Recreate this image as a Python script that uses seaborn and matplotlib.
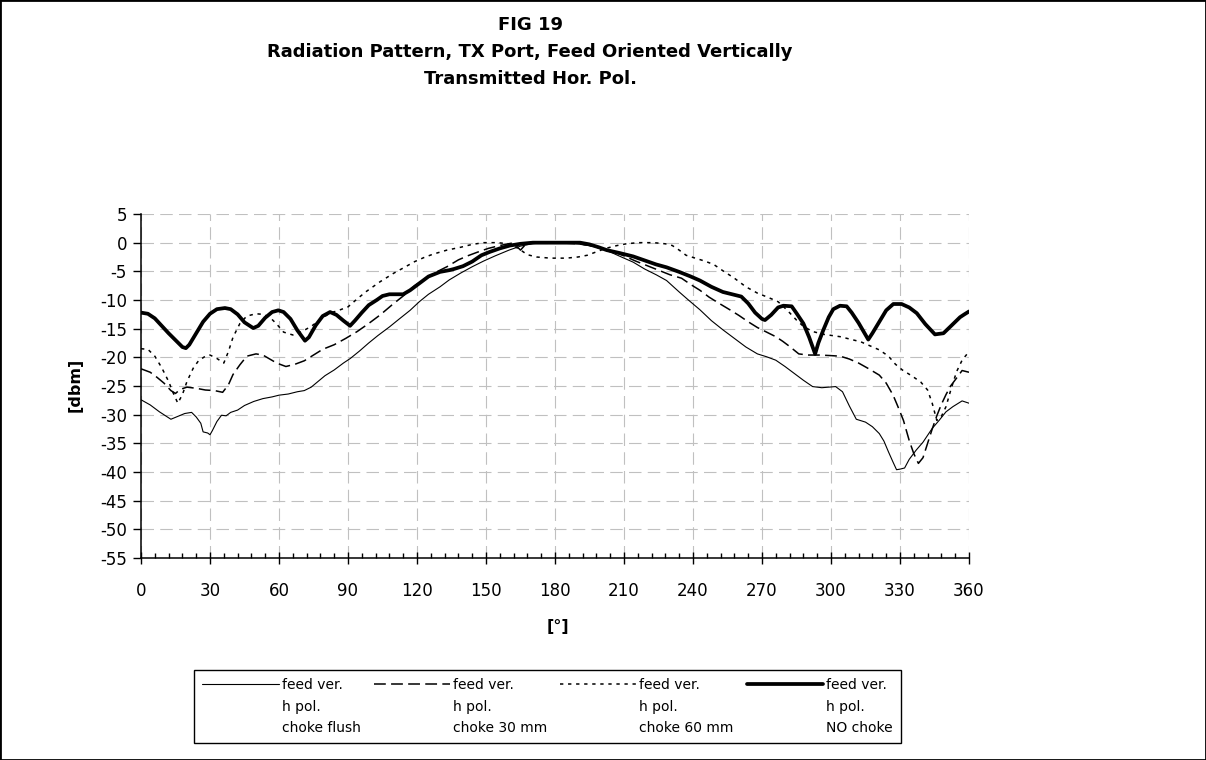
import numpy as np
import pandas as pd
import matplotlib
matplotlib.use("Agg")
import matplotlib.pyplot as plt
import matplotlib.patches as mpatches
from matplotlib.transforms import Affine2D
from matplotlib.ticker import MultipleLocator
import seaborn as sns

# ---------------- data ----------------
flush_deg = [0, 4, 8, 13, 16, 19, 22, 24, 26, 27, 29, 30, 31, 33, 35, 37, 39, 42, 45, 49,
             53, 57, 60, 64, 68, 71, 74, 77, 80, 84, 88, 91, 95, 99, 103, 108, 112, 117,
             121, 125, 130, 134, 139, 144, 149, 154, 160, 165, 170, 175, 180, 185, 190,
             195, 200, 205, 210, 214, 219, 224, 228.5, 234, 238, 243, 248, 253, 258, 263,
             268, 272, 276, 280, 284, 288, 292, 296, 299, 302, 305, 308, 311, 315, 318,
             321, 323, 325, 327, 328.5, 330, 332, 334, 337, 340, 344, 347, 350, 353, 357, 360]
flush_dbm = [-27.4, -28.3, -29.5, -30.8, -30.3, -29.8, -29.6, -30.4, -31.5, -33.0, -33.2,
             -33.5, -32.8, -31.2, -30.1, -30.2, -29.6, -29.2, -28.4, -27.7, -27.2, -26.9,
             -26.6, -26.4, -26.0, -25.8, -25.2, -24.2, -23.2, -22.2, -21.0, -20.2, -18.9,
             -17.5, -16.2, -14.7, -13.4, -11.8, -10.3, -9.0, -7.7, -6.5, -5.3, -4.2, -3.2,
             -2.3, -1.3, -0.6, -0.2, 0.0, 0.0, 0.0, -0.2, -0.5, -1.0, -1.8, -2.7, -3.4,
             -4.6, -5.6, -6.6, -8.6, -10.0, -11.7, -13.6, -15.2, -16.7, -18.2, -19.4, -19.9,
             -20.5, -21.6, -22.8, -24.0, -25.1, -25.3, -25.2, -25.1, -26.0, -28.5, -30.8,
             -31.3, -32.1, -33.3, -34.6, -36.5, -38.3, -39.6, -39.5, -39.3, -37.8, -36.2,
             -34.8, -32.4, -31.0, -29.5, -28.6, -27.6, -28.0]

c30_deg = [0, 4, 7, 10, 13, 15, 17, 20, 24, 28, 32, 35.5, 38, 40, 43, 46, 50, 53, 56, 59,
           63, 67, 71, 75, 79, 84, 89, 94, 99, 104, 109, 114, 119, 124, 128, 133, 138, 142,
           146, 151, 156, 161, 163, 165, 167, 170, 180, 190, 195, 200, 205, 210, 215, 220,
           225, 230, 235, 239, 243, 247, 251, 256, 260, 264, 268, 272, 276, 279, 282, 286,
           290, 295, 300, 304, 308, 312, 316, 321, 324, 327, 329, 331.5, 334, 336, 338,
           340, 342, 344, 346, 348, 350, 352, 355, 357, 360]
c30_dbm = [-22.0, -22.6, -23.5, -24.5, -25.8, -26.3, -25.6, -25.2, -25.4, -25.7, -25.8,
           -26.1, -24.8, -23.0, -21.3, -19.8, -19.4, -19.6, -20.3, -21.0, -21.6, -21.2,
           -20.6, -19.6, -18.6, -17.8, -16.7, -15.5, -14.1, -12.6, -10.9, -9.3, -7.5, -6.2,
           -5.2, -4.2, -3.0, -2.3, -1.7, -1.0, -0.5, -0.1, -0.5, -1.3, -0.4, 0.0, 0.0,
           -0.2, -0.5, -1.0, -1.5, -2.3, -3.2, -4.0, -4.8, -5.6, -6.2, -7.3, -8.3, -9.5,
           -10.5, -11.7, -12.7, -13.8, -14.8, -15.6, -16.4, -17.2, -18.1, -19.4, -19.6,
           -19.6, -19.7, -19.8, -20.3, -21.0, -21.9, -23.1, -24.5, -26.6, -28.5, -31.0,
           -34.5, -36.8, -38.5, -37.5, -35.0, -32.5, -30.2, -28.2, -26.5, -25.0, -23.4,
           -22.3, -22.6]

c60_deg = [0, 3, 6, 9, 12, 14, 16, 18, 20, 22.7, 25, 28, 30, 33, 36, 38, 40, 43, 46, 50,
           53, 56, 59, 62, 66, 70, 74, 78, 82, 86, 90, 94, 98, 104, 110, 115, 119, 123, 127,
           133, 139, 144, 149, 155, 160, 164, 168, 172, 178, 185, 190, 194, 198, 202, 207,
           211, 216, 223, 228, 231, 234, 237, 241, 245, 249, 253, 258, 263, 268, 273, 277,
           281, 285, 288, 292, 297, 304, 308, 313, 317, 321, 325, 328, 331, 335, 339, 342,
           344, 346, 348, 350, 352, 354.6, 357, 360]
c60_dbm = [-18.5, -18.6, -19.8, -21.8, -24.2, -26.2, -28.0, -26.5, -24.2, -21.9, -20.6,
           -19.8, -19.6, -20.2, -21.0, -19.0, -16.5, -14.1, -12.8, -12.4, -12.5, -13.0,
           -14.2, -15.6, -16.1, -15.5, -14.6, -13.4, -12.3, -11.8, -11.2, -9.8, -8.5, -6.8,
           -5.3, -4.2, -3.3, -2.6, -2.0, -1.3, -0.8, -0.3, 0.0, 0.0, -0.2, -1.0, -2.1, -2.5,
           -2.7, -2.7, -2.5, -2.2, -1.6, -1.0, -0.5, -0.2, 0.0, 0.0, -0.2, -0.5, -1.3, -2.2,
           -2.7, -3.2, -3.8, -4.9, -6.2, -7.7, -8.8, -9.6, -10.3, -11.8, -13.5, -14.6,
           -15.5, -16.0, -16.4, -16.8, -17.3, -18.0, -18.7, -19.8, -21.2, -22.2, -23.2,
           -24.3, -25.7, -28.0, -31.0, -30.3, -28.6, -25.8, -22.5, -20.5, -19.0]

nochoke_deg = [0, 3, 6, 9, 12, 15, 18, 19.5, 21, 24, 27, 30, 33, 36.5, 39, 42, 45, 48.8, 51,
               54, 57, 59.7, 62, 65, 68, 71.3, 73, 76, 79, 82.2, 85, 88, 90.9, 93, 96, 99,
               102.5, 105, 108, 112, 114, 117, 121, 125, 130, 134, 136, 140, 144, 148, 151.7,
               156, 160.4, 165, 170.4, 180, 190.9, 195, 199, 202.5, 208, 214, 219, 224, 228.5,
               234, 239, 243, 248, 253, 257, 261, 264, 267, 270, 271.3, 274, 277, 279.3,
               282.9, 285, 288, 290.5, 293.1, 294.5, 296.7, 299, 301, 303.9, 306.8, 309, 312,
               316.2, 318, 321, 324, 327.1, 330.7, 334, 337.3, 341, 345.2, 348.9, 352, 356.1,
               358, 360]
nochoke_dbm = [-12.2, -12.4, -13.2, -14.5, -15.8, -17.0, -18.2, -18.4, -17.8, -15.8, -13.8,
               -12.4, -11.6, -11.4, -11.6, -12.5, -13.9, -14.9, -14.5, -13.1, -12.1, -11.8,
               -12.1, -13.3, -15.3, -17.1, -16.5, -14.4, -12.8, -12.1, -12.6, -13.6, -14.5,
               -13.6, -12.2, -10.9, -10.0, -9.3, -9.0, -9.0, -9.0, -8.3, -7.1, -5.9, -5.1,
               -4.8, -4.6, -4.1, -3.3, -2.2, -1.6, -1.0, -0.5, -0.2, 0.0, 0.0, 0.0, -0.3,
               -0.8, -1.3, -1.8, -2.4, -3.1, -3.8, -4.3, -5.1, -5.9, -6.6, -7.7, -8.6, -9.0,
               -9.4, -10.6, -12.2, -13.3, -13.5, -12.6, -11.3, -11.0, -11.1, -12.3, -14.1,
               -16.5, -19.4, -17.5, -15.2, -13.0, -11.6, -11.0, -11.1, -12.2, -14.0, -16.9,
               -15.8, -13.8, -11.8, -10.7, -10.7, -11.3, -12.3, -14.2, -16.0, -15.8, -14.6,
               -13.0, -12.5, -12.0]

series_labels = ["feed ver.\nh pol.\nchoke flush",
                 "feed ver.\nh pol.\nchoke 30 mm",
                 "feed ver.\nh pol.\nchoke 60 mm",
                 "feed ver.\nh pol.\nNO choke"]

x_ticks = list(range(0, 361, 30))
y_ticks = list(range(-55, 6, 5))

title_text = "FIG 19\nRadiation Pattern, TX Port, Feed Oriented Vertically\nTransmitted Hor. Pol."
x_label = "[°]"
y_label = "[dbm]"

# ---------------- style ----------------
sns.set_theme(style="white")
plt.rcParams["font.family"] = ["DejaVu Sans"]
plt.rcParams["axes.unicode_minus"] = False
plt.rcParams["lines.scale_dashes"] = False
plt.rcParams["text.color"] = "black"
plt.rcParams["axes.labelcolor"] = "black"
plt.rcParams["xtick.color"] = "black"
plt.rcParams["ytick.color"] = "black"

W, H = 1206, 760
fig = plt.figure(figsize=(W / 100, H / 100), dpi=100)
fig.patch.set_facecolor("white")

ax_l, ax_r, ax_t, ax_b = 141, 969, 214, 558
ax = fig.add_axes([ax_l / W, 1 - ax_b / H, (ax_r - ax_l) / W, (ax_b - ax_t) / H])
ax.set_facecolor("white")

frames = []
for d, v, s in [(flush_deg, flush_dbm, 0), (c30_deg, c30_dbm, 1),
                (c60_deg, c60_dbm, 2), (nochoke_deg, nochoke_dbm, 3)]:
    frames.append(pd.DataFrame({"angle": d, "dbm": v, "series": series_labels[s]}))
df = pd.concat(frames, ignore_index=True)

styles = {
    series_labels[0]: dict(linewidth=0.8, linestyle="-"),
    series_labels[1]: dict(linewidth=1.1, linestyle=(0, (8.5, 3.8))),
    series_labels[2]: dict(linewidth=1.1, linestyle=(0, (2.4, 3.4))),
    series_labels[3]: dict(linewidth=2.7, linestyle="-"),
}
for lab in series_labels:
    sub = df[df["series"] == lab]
    sns.lineplot(data=sub, x="angle", y="dbm", ax=ax, color="black", legend=False,
                 label=lab, solid_joinstyle="round", dash_capstyle="butt", **styles[lab])

ax.set_xlim(0, 360)
ax.set_ylim(-55, 5)
ax.set_xticks(x_ticks)
ax.set_yticks(y_ticks)
ax.xaxis.set_minor_locator(MultipleLocator(6))
ax.set_axisbelow(True)
ax.grid(True, which="major", color="#c0c0c0", linestyle=(0, (9, 4.5)), linewidth=0.8)

for side in ["top", "right"]:
    ax.spines[side].set_visible(False)
for side in ["left", "bottom"]:
    ax.spines[side].set_color("black")
    ax.spines[side].set_linewidth(1.1)

ax.tick_params(axis="x", which="major", direction="inout", length=8.6, width=1.0,
               colors="black", labelsize=12, pad=13, bottom=True)
ax.tick_params(axis="x", which="minor", direction="in", length=3.6, width=1.0,
               colors="black", bottom=True)
ax.tick_params(axis="y", which="major", direction="out", length=5.8, width=1.0,
               colors="black", labelsize=12, pad=4.3, left=True)

ax.set_xlabel(x_label, fontsize=11.5, fontweight="bold", color="black")
ax.set_ylabel(y_label, fontsize=11.5, fontweight="bold", color="black")
ax.xaxis.set_label_coords((558 - ax_l) / (ax_r - ax_l), (ax_b - 619) / (ax_b - ax_t))
ax.yaxis.set_label_coords((83 - ax_l) / (ax_r - ax_l), (ax_b - 385) / (ax_b - ax_t))

fig.text(530 / W, 1 - 16 / H, title_text, ha="center", va="top", fontsize=13,
         fontweight="bold", linespacing=1.65, multialignment="center", color="black")

leg_fs = 10
handles = ax.get_lines()[-4:]
leg = fig.legend(handles, series_labels, loc="upper left",
                 bbox_to_anchor=(194 / W, 1 - 670 / H), ncol=4, frameon=True,
                 fancybox=False, shadow=False, framealpha=1, edgecolor="black",
                 fontsize=leg_fs, borderpad=0.6, handlelength=5.5, handletextpad=0.2,
                 columnspacing=0.95, borderaxespad=0)
leg.get_frame().set_linewidth(1.0)
for t in leg.get_texts():
    t.set_linespacing(1.66)
    t.set_color("black")

# move the legend handles up to the first text line
fig.canvas.draw()
fs_px = leg_fs * 100 / 72
for ln, t in zip(leg.get_lines(), leg.get_texts()):
    bb = t.get_window_extent()
    target = bb.y1 - 0.42 * fs_px
    cur = ln.get_transform().transform(np.asarray(ln.get_xydata()))[0, 1]
    ln.set_transform(ln.get_transform() + Affine2D().translate(0, target - cur))

# outer figure border
fig.patches.append(mpatches.Rectangle((0, 0), 1, 1, transform=fig.transFigure,
                                      fill=False, edgecolor="black", linewidth=2.0))

fig.savefig("out.png", dpi=100)
